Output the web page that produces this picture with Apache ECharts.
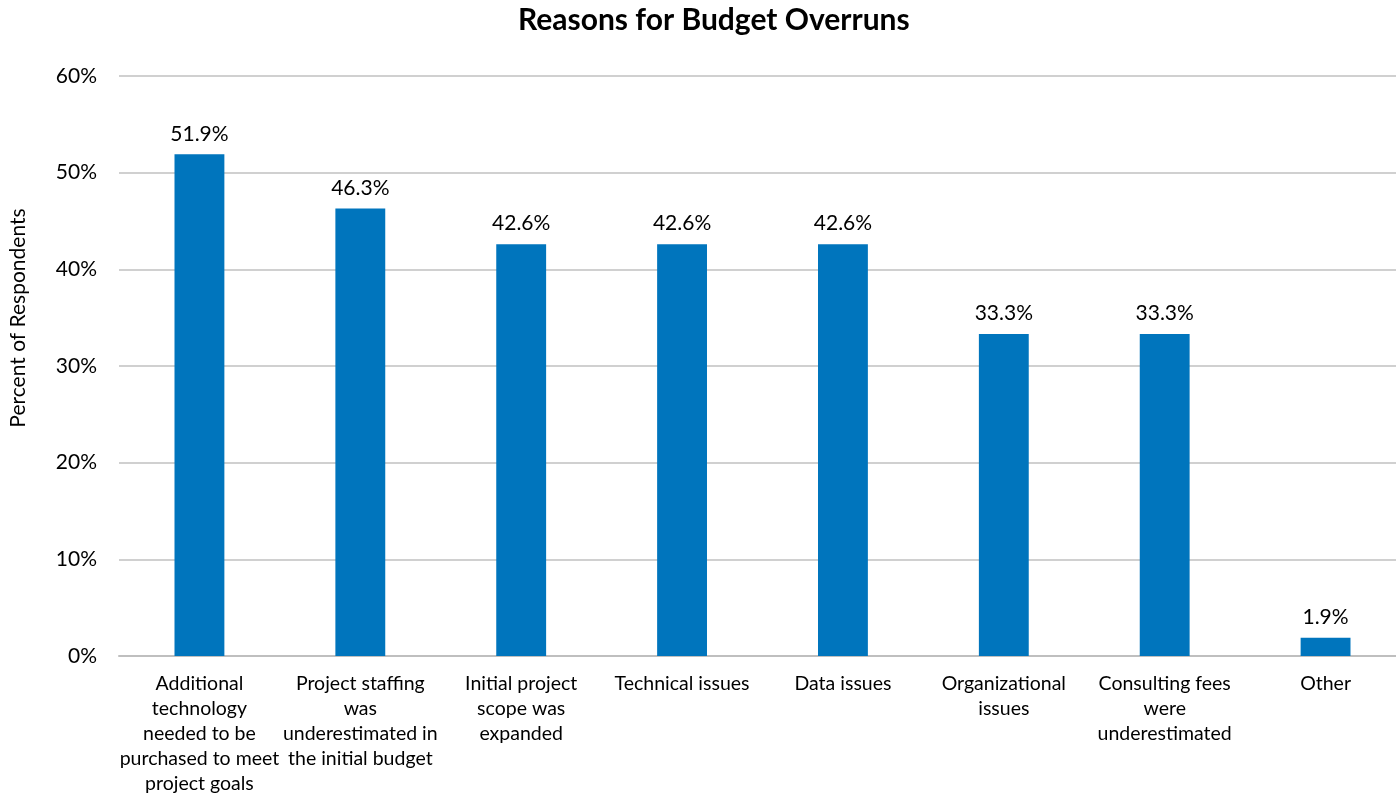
<!DOCTYPE html>
<html><head><meta charset="utf-8">
<script src="https://cdn.jsdelivr.net/npm/echarts@6/dist/echarts.min.js"></script>
<style>html,body{margin:0;padding:0;background:#fff}#c{width:1396px;height:796px}</style>
</head><body><div id="c"></div>
<script>
const categories = [
  "Additional\ntechnology\nneeded to be\npurchased to meet\nproject goals",
  "Project staffing\nwas\nunderestimated in\nthe initial budget",
  "Initial project\nscope was\nexpanded",
  "Technical issues",
  "Data issues",
  "Organizational\nissues",
  "Consulting fees\nwere\nunderestimated",
  "Other"
];
const values = [51.9, 46.3, 42.6, 42.6, 42.6, 33.3, 33.3, 1.9];
const yTicks = [0, 10, 20, 30, 40, 50, 60];
const titleText = "Reasons for Budget Overruns";
const yAxisTitle = "Percent of Respondents";

const font = "Lato, 'Open Sans', sans-serif";
const chart = echarts.init(document.getElementById('c'), null, {renderer: 'canvas'});
chart.setOption({
  animation: false,
  title: {text: titleText, left: 518, top: 5, padding: 0,
    textStyle: {fontFamily: font, fontSize: 30, fontWeight: 'bold', color: '#000'}},
  grid: {left: 119, width: 1287, top: 76, bottom: 140, containLabel: false, outerBoundsMode: 'none'},
  graphic: [{type: 'text', rotation: Math.PI/2, x: 18, y: 318,
    style: {text: yAxisTitle, fontFamily: font, fontSize: 21, fill: '#000', align: 'center', verticalAlign: 'middle'}}],
  xAxis: {type: 'category', data: categories,
    axisLine: {lineStyle: {color: '#bfbfbf', width: 2}},
    axisTick: {show: false},
    axisLabel: {interval: 0, color: '#000', fontFamily: font, fontSize: 19.5, lineHeight: 25, margin: 15}},
  yAxis: {type: 'value', min: yTicks[0], max: yTicks[yTicks.length-1], interval: 10,
    axisLine: {show: false}, axisTick: {show: false},
    splitLine: {lineStyle: {color: '#d0d0d0', width: 2}},
    axisLabel: {formatter: v => v + '%', color: '#000', fontFamily: font, fontSize: 21, margin: 22}},
  series: [{type: 'bar', data: values, barWidth: '31%',
    itemStyle: {color: '#0075BD'},
    label: {show: true, position: 'top', distance: 10, formatter: p => p.value.toFixed(1) + '%',
      color: '#000', fontFamily: font, fontSize: 21}}]
});
</script></body></html>
